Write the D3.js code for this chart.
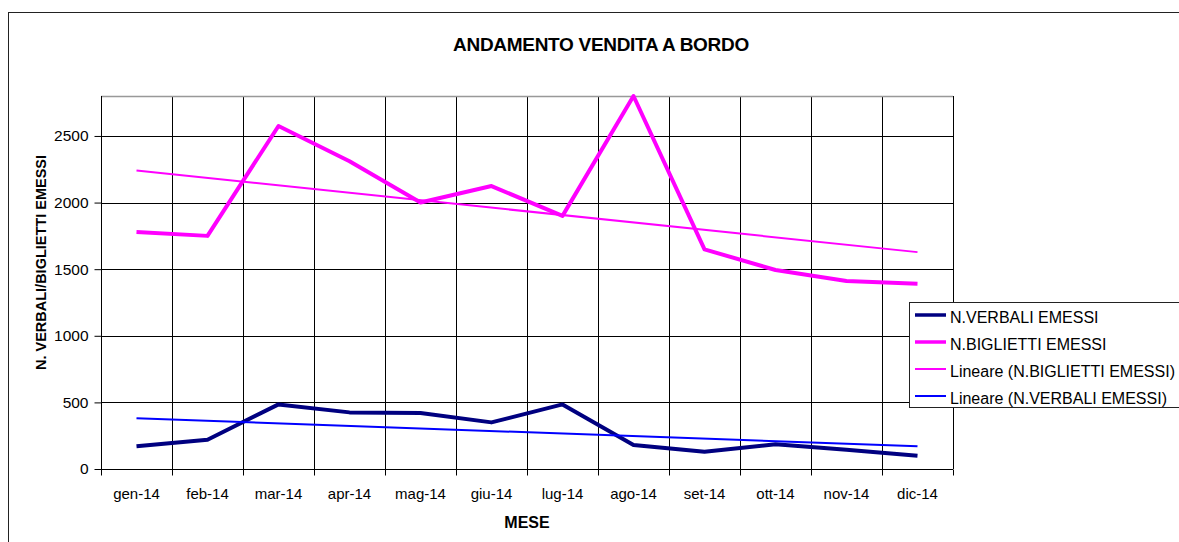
<!DOCTYPE html>
<html>
<head>
<meta charset="utf-8">
<script src="https://cdn.jsdelivr.net/npm/d3@7"></script>
<style>
  html, body { margin: 0; padding: 0; background: #fff; }
  svg { display: block; font-family: "Liberation Sans", Arial, sans-serif; }
</style>
</head>
<body>
<svg id="chart" width="1179" height="542"></svg>
<script>
// Monthly on-board sales, 2014
const months = ["gen-14", "feb-14", "mar-14", "apr-14", "mag-14", "giu-14",
                "lug-14", "ago-14", "set-14", "ott-14", "nov-14", "dic-14"];
const verbali = [170, 220, 485, 425, 420, 350, 485, 180, 130, 185, 145, 100];
const biglietti = [1780, 1750, 2575, 2310, 2000, 2124, 1900, 2800, 1649, 1494, 1411, 1391];
// Linear trend lines: values at the first and last month
const trendBiglietti = [2240, 1628];
const trendVerbali = [381, 170];
const yTicks = [0, 500, 1000, 1500, 2000, 2500];
const legendLabels = ["N.VERBALI EMESSI", "N.BIGLIETTI EMESSI",
                      "Lineare (N.BIGLIETTI EMESSI)", "Lineare (N.VERBALI EMESSI)"];

const svg = d3.select("#chart");
const plot = { left: 101, right: 953, top: 96, bottom: 469 };

// Outer chart frame (runs off the right and bottom edges)
svg.append("rect")
  .attr("x", 8.5).attr("y", 12.5).attr("width", 1300).attr("height", 700)
  .attr("fill", "#fff").attr("stroke", "#222").attr("stroke-width", 1);

const x = d3.scaleBand().domain(months).range([plot.left, plot.right]).padding(0);
const y = d3.scaleLinear().domain([0, 2800]).range([plot.bottom, plot.top]);
const xc = m => x(m) + x.bandwidth() / 2;

// Horizontal gridlines
svg.append("g").selectAll("line").data(yTicks.filter(v => v > 0)).join("line")
  .attr("x1", plot.left).attr("x2", plot.right)
  .attr("y1", d => Math.round(y(d)) + 0.5).attr("y2", d => Math.round(y(d)) + 0.5)
  .attr("stroke", "#000").attr("stroke-width", 1);

// Vertical gridlines at category boundaries
const bounds = months.map(m => x(m)).concat([plot.right]);
svg.append("g").selectAll("line").data(bounds.slice(1)).join("line")
  .attr("x1", d => Math.round(d) + 0.5).attr("x2", d => Math.round(d) + 0.5)
  .attr("y1", plot.top).attr("y2", plot.bottom)
  .attr("stroke", "#000").attr("stroke-width", 1);

// Plot area top border
svg.append("line")
  .attr("x1", plot.left).attr("x2", plot.right)
  .attr("y1", plot.top + 0.5).attr("y2", plot.top + 0.5)
  .attr("stroke", "#999").attr("stroke-width", 1.5);

// Y axis
const yAxis = d3.axisLeft(y).tickValues(yTicks).tickFormat(d3.format("d"))
  .tickSize(7).tickPadding(6);
const gy = svg.append("g").attr("transform", `translate(${plot.left + 0.5},0)`).call(yAxis);
gy.select(".domain").attr("d", `M0,${plot.top}V${plot.bottom + 0.5}`).attr("stroke", "#000");
gy.selectAll(".tick line").attr("stroke", "#000");
gy.selectAll(".tick text").attr("font-size", 15.5).attr("fill", "#000")
  .attr("font-family", "'Liberation Sans', Arial, sans-serif");

// X axis: labels centred in bands, ticks at boundaries
const gx = svg.append("g").attr("transform", `translate(0,${Math.round(plot.bottom) + 0.5})`);
gx.append("line").attr("x1", plot.left).attr("x2", plot.right).attr("stroke", "#000");
gx.selectAll("line.tk").data(bounds).join("line").attr("class", "tk")
  .attr("x1", d => Math.round(d) + 0.5).attr("x2", d => Math.round(d) + 0.5)
  .attr("y1", 0).attr("y2", 6).attr("stroke", "#000");
gx.selectAll("text").data(months).join("text")
  .attr("x", d => xc(d)).attr("y", 29)
  .attr("text-anchor", "middle").attr("font-size", 15).attr("fill", "#000")
  .text(d => d);

// Series lines
const line = d3.line().x((d, i) => xc(months[i])).y(d => y(d));
svg.append("path").datum(verbali).attr("d", line)
  .attr("fill", "none").attr("stroke", "#000080").attr("stroke-width", 4)
  .attr("stroke-linejoin", "round");
svg.append("path").datum(biglietti).attr("d", line)
  .attr("fill", "none").attr("stroke", "#FF00FF").attr("stroke-width", 4)
  .attr("stroke-linejoin", "round");

// Trend lines
const trendLine = d3.line().x((d, i) => xc(months[i === 0 ? 0 : months.length - 1])).y(d => y(d));
svg.append("path").datum(trendBiglietti).attr("d", trendLine)
  .attr("fill", "none").attr("stroke", "#FF00FF").attr("stroke-width", 2);
svg.append("path").datum(trendVerbali).attr("d", trendLine)
  .attr("fill", "none").attr("stroke", "#0000FF").attr("stroke-width", 2);

// Title and axis titles
svg.append("text").attr("x", 601).attr("y", 50.5).attr("text-anchor", "middle")
  .attr("font-size", 19).attr("font-weight", "bold").attr("letter-spacing", -0.3)
  .text("ANDAMENTO VENDITA A BORDO");
svg.append("text").attr("x", 527).attr("y", 528).attr("text-anchor", "middle")
  .attr("font-size", 16).attr("font-weight", "bold").text("MESE");
svg.append("text").attr("transform", "translate(46,262.5) rotate(-90)")
  .attr("text-anchor", "middle").attr("font-size", 14.5).attr("font-weight", "bold")
  .text("N. VERBALI/BIGLIETTI EMESSI");

// Legend
const legendColors = ["#000080", "#FF00FF", "#FF00FF", "#0000FF"];
const legendWidths = [3.5, 3.5, 2, 2];
const lg = svg.append("g");
lg.append("rect").attr("x", 909.5).attr("y", 302.5).attr("width", 300).attr("height", 105)
  .attr("fill", "#fff").attr("stroke", "#222").attr("stroke-width", 1);
const rows = lg.selectAll("g").data(legendLabels).join("g")
  .attr("transform", (d, i) => `translate(0,${315 + i * 27})`);
rows.append("line").attr("x1", 915).attr("x2", 946).attr("y1", 0).attr("y2", 0)
  .attr("stroke", (d, i) => legendColors[i]).attr("stroke-width", (d, i) => legendWidths[i]);
rows.append("text").attr("x", 950).attr("y", 8).attr("font-size", 16).attr("fill", "#000")
  .text(d => d);
</script>
</body>
</html>
